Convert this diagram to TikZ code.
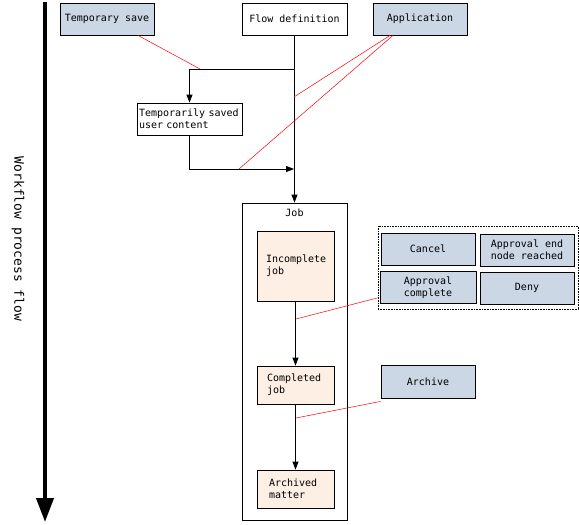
\documentclass[tikz,border=0pt]{standalone}
\usepackage{fontspec}
\newfontfamily\mono{DejaVu Sans Mono}
\usetikzlibrary{arrows.meta,calc}
\definecolor{bluef}{RGB}{203,215,229}
\definecolor{peach}{RGB}{253,239,227}
\tikzset{
  box/.style={draw, line width=0.8pt, inner sep=0pt, font=\mono\fontsize{10}{12}\selectfont, align=center},
  bluebox/.style={box, fill=bluef, minimum width=94pt, minimum height=32pt},
  whitebox/.style={box, fill=white, minimum width=105pt, minimum height=32pt},
  jobbox/.style={box, fill=peach, align=left},
  flow/.style={line width=0.8pt, -{Triangle[length=8pt,width=6pt]}},
  redl/.style={red, line width=0.5pt},
}
\begin{document}
\begin{tikzpicture}[x=1pt,y=-1pt]
\useasboundingbox (0,0) rectangle (579,525);
% big arrow
\coordinate (ba1) at (45,2);
\coordinate (ba2) at (45,522);
\draw[line width=4pt, -{Triangle[length=24pt,width=17pt]}] (ba1) -- (ba2);
\node[rotate=-90, font=\mono\fontsize{13}{14}\selectfont] (wf) at (18,239) {Workflow process flow};
% top boxes
\node[bluebox] (ts) at (107,19) {Temporary save};
\node[whitebox] (fd) at (294.5,19) {Flow definition};
\node[bluebox] (app) at (420,19) {Application};
\node[whitebox, align=left, text width=101pt, inner xsep=2pt] (tsu) at (189.5,119) {Temporarily saved\\user content};
% job container
\node[draw, line width=0.8pt, minimum width=105pt, minimum height=317pt, inner sep=0pt] (job) at (294.5,361.5) {};
\node[font=\mono\fontsize{10}{12}\selectfont] (joblabel) at (294.5,213) {Job};
\node[jobbox, minimum height=70pt, inner xsep=9pt, text width=59pt] (inc) at (295.5,266) {Incomplete\\job};
\node[jobbox, minimum height=38pt, inner xsep=10pt, text width=57pt] (comp) at (295.5,385) {Completed\\job};
\node[jobbox, minimum height=38pt, inner xsep=12pt, text width=53pt] (arch) at (295.5,489) {Archived\\matter};
% group of action boxes
\node[draw, densely dotted, line width=0.6pt, minimum width=200pt, minimum height=83pt, inner sep=0pt] (grp) at (478,267.5) {};
\node[bluebox] (cancel) at (428,249) {Cancel};
\node[bluebox] (aend) at (527,250) {Approval end\\node reached};
\node[bluebox, minimum width=96pt] (ac) at (428,287.5) {Approval\\complete};
\node[bluebox] (deny) at (527,288) {Deny};
\node[bluebox, minimum height=33pt] (arc) at (428,381.5) {Archive};
% junction coordinates
\coordinate (br) at (294,69);
\coordinate (mj) at (294,169);
\coordinate (r1) at (200,69);
\coordinate (r2) at (294,97);
\coordinate (r3) at (239,169);
\coordinate (r4) at (296,319);
\coordinate (r5) at (296,418);
% black connectors
\draw[flow] (fd.south) -- (job.north);
\draw[flow] (br) -| (tsu.north);
\draw[flow] (tsu.south) |- (mj);
\draw[flow] (inc.south) -- (comp.north);
\draw[flow] (comp.south) -- (arch.north);
% red links
\draw[redl] ([xshift=31pt]ts.south) -- (r1);
\draw[redl] ([xshift=-30pt]app.south) -- (r2);
\draw[redl] ([xshift=-27pt]app.south) -- (r3);
\draw[redl] ([shift={(-2,-6)}]ac.south west) -- (r4);
\draw[redl] ([yshift=-3]arc.south west) -- (r5);
\end{tikzpicture}
\end{document}
